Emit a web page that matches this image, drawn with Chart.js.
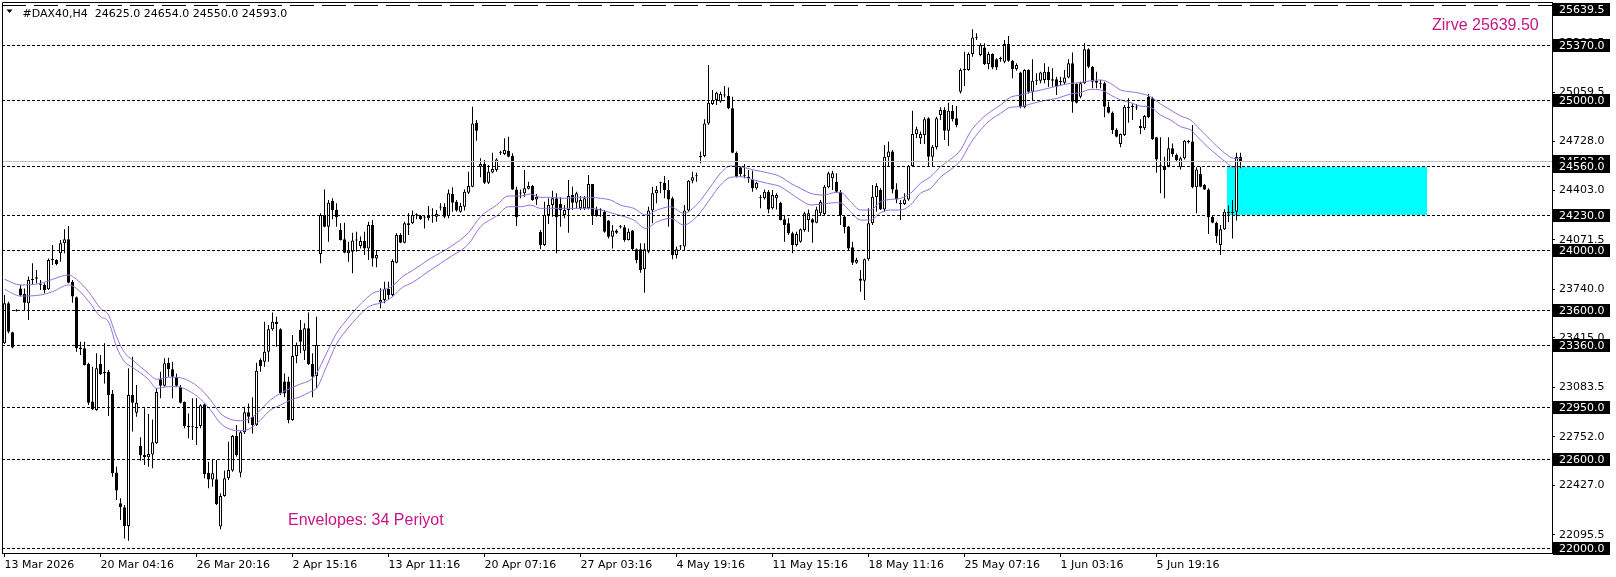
<!DOCTYPE html>
<html>
<head>
<meta charset="utf-8">
<script src="https://cdn.jsdelivr.net/npm/chart.js@4.4.1/dist/chart.umd.min.js"></script>
<style>
  html, body { margin: 0; padding: 0; background: #fff; }
  canvas { display: block; }
</style>
</head>
<body>
<canvas id="dax" width="1616" height="577" style="width:1616px;height:577px"></canvas>
<script>
// #DAX40 H4 candles, one entry per bar (bar 0 = 13 Mar 2026)
const opens = [
  23377,23645,23451,23596,23745,23707,23645,23801,23819,23770,
  23768,23739,23935,23935,23980,24047,24074,23790,23685,23350,
  23344,23239,22987,22931,23239,23187,23187,23038,22513,22306,
  22279,22154,23031,22913,22692,22629,22614,22632,22708,23136,
  23094,23248,23203,23150,23087,22984,22826,22815,22819,22824,
  22969,22511,22466,22467,22150,22355,22473,22525,22757,22511,
  22781,22915,22886,22830,23266,23254,23321,23471,23522,23471,
  23121,23121,22864,23292,23467,23328,23478,23239,23158,23975,
  24237,24158,24330,24270,24136,24074,23980,23991,24065,24029,
  24062,24013,24170,23946,23650,23667,23741,23701,23917,24103,
  24051,24170,24181,24237,24230,24219,24214,24232,24225,24286,
  24292,24230,24377,24326,24259,24292,24386,24426,24855,24560,
  24578,24453,24522,24538,24654,24645,24667,24632,24408,24380,
  24382,24413,24431,24341,24125,24036,24237,24303,24348,24310,
  24237,24270,24370,24319,24281,24281,24281,24444,24274,24270,
  24259,24199,24091,24132,24158,24154,24069,24132,24007,24007,
  23873,23991,24266,24382,24449,24453,24404,24348,23969,24025,
  24025,24266,24466,24496,24623,24632,24850,24980,25007,24996,
  25036,25033,24951,24654,24556,24498,24482,24475,24415,24348,
  24348,24393,24281,24348,24319,24208,24181,24114,24036,24058,
  24136,24203,24208,24185,24248,24243,24422,24482,24460,24393,
  24226,24159,24020,23917,23812,23797,23940,24181,24355,24404,
  24274,24623,24661,24408,24310,24310,24341,24565,24779,24750,
  24772,24884,24627,24690,24906,24940,24801,24935,24884,25062,
  25208,25208,25315,25420,25308,25359,25248,25315,25279,25281,
  25263,25382,25270,25212,25190,24958,25208,25062,25136,25136,
  25141,25196,25145,25145,25129,25123,25158,25252,25114,25029,
  25118,25346,25230,25136,25118,25118,24962,24922,24806,24712,
  24772,24962,24962,24958,24833,24817,25029,25018,24757,24565,
  24565,24565,24683,24638,24556,24616,24728,24728,24422,24511,
  24437,24408,24225,24185,24035,24141,24259,24250,24259,24625
];
const highs = [
  23701,23656,23455,23605,23768,23745,23824,23913,23868,23801,
  23779,23946,24036,23940,24069,24141,24163,23801,23690,23388,
  23388,23248,23221,23310,23299,23377,23199,23065,22551,22339,
  22295,23210,23288,23098,22748,22942,22904,22868,23076,23187,
  23277,23281,23254,23176,23098,22987,22908,23009,23009,22969,
  22975,22585,22600,22596,22373,22525,22719,22763,22830,22792,
  22953,22975,23016,23248,23277,23522,23500,23583,23556,23478,
  23176,23154,23433,23382,23533,23511,23583,23310,23556,24248,
  24408,24337,24348,24315,24181,24185,24058,24118,24125,24092,
  24125,24192,24203,24003,23746,23790,23790,23940,24114,24114,
  24192,24248,24266,24248,24237,24230,24297,24281,24270,24315,
  24315,24408,24422,24337,24319,24408,24527,24962,24873,24616,
  24605,24571,24654,24616,24667,24750,24761,24650,24426,24408,
  24538,24460,24438,24377,24136,24326,24348,24399,24382,24355,
  24303,24471,24426,24393,24364,24364,24504,24444,24292,24281,
  24270,24203,24170,24141,24170,24170,24147,24136,24013,24047,
  24047,24292,24426,24431,24460,24498,24471,24359,24025,24036,
  24304,24471,24527,24520,24661,24877,25241,25074,25062,25062,
  25100,25091,25029,24661,24565,24578,24538,24533,24460,24370,
  24408,24404,24404,24382,24326,24230,24214,24125,24125,24147,
  24259,24274,24214,24292,24337,24437,24527,24533,24516,24404,
  24230,24163,24058,23950,23868,23946,24281,24437,24449,24415,
  24705,24728,24672,24449,24337,24382,24571,24935,24828,24795,
  24891,24891,24705,24895,24958,24958,24989,24973,24966,25219,
  25330,25324,25480,25453,25386,25386,25330,25319,25286,25297,
  25408,25435,25274,25252,25196,25212,25212,25279,25185,25196,
  25252,25230,25219,25163,25163,25208,25279,25324,25118,25129,
  25386,25353,25234,25196,25141,25129,24995,24929,24817,24783,
  24973,25018,24984,24980,24877,24906,25047,25029,24761,24757,
  24627,24757,24716,24649,24627,24739,24739,24839,24556,24560,
  24444,24415,24237,24192,24170,24275,24300,24337,24654,24654
];
const lows = [
  23373,23444,23344,23590,23690,23600,23533,23768,23779,23734,
  23712,23734,23902,23900,23924,23980,23779,23649,23321,23299,
  23228,22964,22931,22926,23165,23109,22891,22484,22328,22194,
  22071,22056,22786,22886,22591,22562,22551,22540,22703,23009,
  23087,23154,23009,23087,22975,22808,22741,22730,22696,22808,
  22473,22406,22417,22295,22132,22350,22462,22518,22618,22480,
  22770,22842,22774,22824,23187,23221,23254,23462,23355,23031,
  23016,22842,22859,23243,23310,23266,23232,23016,23076,23913,
  24154,24058,24208,24158,24065,23980,23924,23846,23991,24013,
  23969,23935,23891,23886,23612,23645,23667,23690,23913,24047,
  24047,24103,24176,24208,24203,24147,24199,24185,24192,24266,
  24214,24214,24259,24259,24252,24266,24377,24422,24734,24489,
  24444,24444,24516,24527,24638,24638,24623,24404,24163,24348,
  24359,24408,24332,24303,24007,24029,24176,24225,23980,24158,
  24214,24118,24270,24281,24270,24270,24274,24170,24225,24225,
  24118,24080,24013,24109,24147,24058,24065,24002,23913,23850,
  23716,23980,24181,24315,24382,24348,24158,23940,23946,24002,
  24002,24259,24449,24460,24583,24623,24839,24973,24973,24989,
  25024,24944,24650,24487,24493,24482,24453,24393,24408,24281,
  24341,24248,24274,24274,24199,24058,24103,23980,24025,24051,
  24125,24125,24051,24181,24230,24230,24415,24404,24386,24170,
  24114,24002,23902,23910,23723,23667,23931,24170,24259,24270,
  24259,24560,24382,24315,24203,24304,24332,24560,24750,24712,
  24712,24560,24560,24676,24873,24739,24699,24862,24824,25051,
  25100,25203,25297,25408,25300,25241,25212,25212,25208,25263,
  25252,25263,25152,25203,24951,24951,25051,25002,25107,25118,
  25118,25096,25096,25040,25107,25107,25152,24922,24984,25018,
  25114,25219,25085,25085,25085,24891,24917,24779,24757,24690,
  24766,24855,24873,24940,24779,24806,24884,24739,24520,24382,
  24348,24556,24627,24594,24542,24609,24716,24415,24248,24422,
  24404,24109,24181,24047,23969,24136,24190,24080,24200,24550
];
const closes = [
  23645,23455,23350,23600,23701,23649,23801,23805,23810,23766,
  23734,23935,23937,23908,24047,24074,23783,23690,23344,23337,
  23232,22980,22935,23210,23172,23176,23031,22507,22391,22279,
  22154,23031,22980,22980,22627,22614,22636,22714,23051,23094,
  23243,23203,23154,23094,22980,22824,22815,22819,22808,22962,
  22502,22466,22507,22301,22355,22473,22529,22757,22629,22781,
  22915,22886,22830,23194,23225,23321,23471,23522,23507,23042,
  23042,22864,23292,23366,23388,23478,23239,23154,23366,24237,
  24158,24319,24270,24221,24069,23984,23998,24065,24067,24062,
  24013,24170,23946,23969,23667,23741,23701,23929,24103,24051,
  24181,24181,24237,24235,24210,24221,24230,24236,24243,24290,
  24225,24382,24319,24266,24297,24393,24431,24850,24801,24578,
  24453,24527,24545,24609,24656,24672,24627,24408,24221,24384,
  24415,24431,24337,24359,24036,24237,24303,24348,24221,24270,
  24270,24364,24319,24382,24337,24348,24444,24230,24230,24268,
  24125,24091,24132,24118,24160,24069,24125,24007,23935,23868,
  24007,24266,24382,24404,24451,24404,24341,23969,24007,24027,
  24266,24466,24489,24498,24632,24850,24989,25007,25056,25047,
  25038,24951,24654,24493,24511,24496,24493,24415,24453,24350,
  24393,24274,24370,24370,24203,24170,24114,24036,24109,24141,
  24248,24248,24185,24274,24326,24426,24516,24516,24393,24237,
  24154,24013,23917,23935,23797,23940,24181,24359,24431,24274,
  24627,24661,24408,24341,24312,24341,24565,24779,24810,24779,
  24877,24627,24694,24884,24940,24801,24935,24877,24839,25208,
  25210,25315,25426,25422,25375,25248,25315,25225,25225,25283,
  25382,25270,25212,25241,24958,25208,25062,25136,25138,25190,
  25196,25141,25136,25096,25127,25158,25252,24995,24989,25118,
  25346,25230,25129,25123,25116,24962,24922,24806,24761,24779,
  24962,24951,24960,24956,24817,24900,24891,24743,24609,24563,
  24538,24683,24645,24605,24616,24734,24726,24422,24542,24426,
  24408,24221,24185,24096,24141,24259,24250,24255,24625,24593
];

// Envelopes (34) upper / lower band, read at these bar positions
const envBars = [
  0,4,9,12,16,18,21,24,26,28,30,32,36,38,41,43,46,49,51.5,54,
  56.5,59,61.5,64,66.5,69,71.5,74,76.5,78,80.5,83,85.5,88,90.5,92,94.5,97,99.5,102,
  106.5,111.5,116,119,123,126,129,131.5,134,136.5,140,143,146.5,149,151.5,154,157.3,160.3,163.2,166.5,
  169.8,173.2,176.5,179,181.5,184,187.3,190.7,194,196.5,199,201.5,204.8,207.3,209,211.5,214,216.5,219,221.5,
  224,226.5,229,231.5,234,236.5,239,241.5,244,246.5,249,251.5,254,256.5,259.8,263.2,266.5,269,271.5,274,
  276.5,279,281.5,284,286.5,289,291.5,294,296.5,298.2,300.7,303.2,305.7,307.3,309
];
const envUpper = [
  23806,23768,23779,23806,23835,23806,23723,23612,23567,23422,23315,23266,23176,23136,23150,23150,23127,23072,22998,22908,
  22868,22859,22875,22931,22998,23042,23076,23105,23132,23176,23310,23444,23533,23612,23679,23712,23734,23761,23824,23865,
  23946,24024,24118,24225,24303,24364,24364,24377,24355,24355,24348,24355,24355,24348,24337,24303,24281,24237,24270,24292,
  24248,24310,24426,24516,24565,24560,24538,24520,24493,24449,24415,24382,24370,24386,24388,24326,24270,24270,24326,24341,
  24348,24382,24449,24493,24560,24609,24672,24795,24873,24929,24973,25025,25040,25058,25078,25100,25118,25123,25136,25141,
  25118,25074,25062,25051,25029,24980,24940,24900,24873,24828,24761,24694,24638,24616,24616
];
const envLower = [
  23739,23694,23701,23723,23768,23745,23660,23556,23522,23355,23254,23216,23136,23076,23087,23087,23060,23004,22931,22842,
  22801,22792,22808,22864,22931,22964,22998,23020,23054,23076,23221,23373,23467,23545,23612,23634,23650,23690,23752,23785,
  23868,23957,24042,24158,24230,24292,24292,24303,24281,24281,24281,24281,24281,24270,24252,24233,24203,24147,24192,24214,
  24170,24230,24348,24437,24489,24493,24471,24449,24426,24382,24337,24304,24310,24319,24317,24259,24203,24203,24252,24270,
  24270,24304,24382,24415,24490,24540,24600,24716,24806,24873,24917,24958,24962,24980,25002,25018,25047,25056,25078,25074,
  25040,25007,24989,24966,24958,24906,24873,24828,24806,24761,24694,24638,24582,24556,24565
];

// time axis: label every 24 bars
const timeTickBars = [0, 24, 48, 72, 96, 120, 144, 168, 192, 216, 240, 264, 288];
const timeLabels = ["13 Mar 2026", "20 Mar 04:16", "26 Mar 20:16", "2 Apr 15:16", "13 Apr 11:16",
  "20 Apr 07:16", "27 Apr 03:16", "4 May 19:16", "11 May 15:16", "18 May 11:16",
  "25 May 07:16", "1 Jun 03:16", "5 Jun 19:16"];

// price axis
const priceTicks = [25390.5, 25059.5, 24728.0, 24403.0, 24071.5, 23740.0, 23415.0, 23083.5, 22752.0, 22427.0, 22095.5];
const levels = [25370, 25000, 24560, 24230, 24000, 23600, 23360, 22950, 22600, 22000];
const peak = 25639.5;
const lastPrice = 24593.0;
const zone = { fromBar: 305.7, toBar: 355.7, top: 24560, bottom: 24238 };
const header = "#DAX40,H4  24625.0 24654.0 24550.0 24593.0";

const FONT = "DejaVu Sans";
const bars = opens.map((o, i) => i);

function crisp(v) {
  return Math.round(v - 0.5) + 0.5;
}

const overlay = {
  id: "overlay",
  beforeDatasetsDraw(chart) {
    const { ctx, scales: { x, y } } = chart;
    const x0 = Math.round(x.getPixelForValue(zone.fromBar));
    const x1 = Math.round(x.getPixelForValue(zone.toBar));
    const y0 = Math.round(y.getPixelForValue(zone.top));
    const y1 = Math.round(y.getPixelForValue(zone.bottom));
    ctx.save();
    ctx.fillStyle = "#00ffff";
    ctx.fillRect(x0, y0, x1 - x0, y1 - y0);
    ctx.restore();
  },
  afterDatasetsDraw(chart) {
    const { ctx, chartArea: a, scales: { x, y } } = chart;
    ctx.save();
    ctx.lineWidth = 1;

    // support / resistance levels
    ctx.strokeStyle = "#000";
    ctx.setLineDash([3, 2]);
    levels.forEach((v) => {
      const py = crisp(y.getPixelForValue(v));
      ctx.beginPath();
      ctx.moveTo(a.left, py);
      ctx.lineTo(a.right, py);
      ctx.stroke();
    });

    // peak line
    ctx.setLineDash([24, 8]);
    const pk = crisp(y.getPixelForValue(peak));
    ctx.beginPath();
    ctx.moveTo(a.left, pk);
    ctx.lineTo(a.right, pk);
    ctx.stroke();

    // bid line
    ctx.setLineDash([]);
    ctx.strokeStyle = "#c0c0c0";
    const bp = crisp(y.getPixelForValue(lastPrice));
    ctx.beginPath();
    ctx.moveTo(a.left, bp);
    ctx.lineTo(a.right, bp);
    ctx.stroke();

    // notes
    ctx.fillStyle = "#C71585";
    ctx.font = "16px 'Liberation Sans', Arial, sans-serif";
    ctx.textBaseline = "alphabetic";
    ctx.fillText("Zirve 25639.50", 1432, 30);
    ctx.fillText("Envelopes: 34 Periyot", 288, 525);
    ctx.restore();
  },
  afterDraw(chart) {
    const { ctx, chartArea: a, scales: { y } } = chart;
    ctx.save();
    // frame
    ctx.strokeStyle = "#000";
    ctx.lineWidth = 1;
    ctx.beginPath();
    ctx.moveTo(a.left + 0.5, a.bottom);
    ctx.lineTo(a.left + 0.5, a.top + 0.5);
    ctx.lineTo(a.right, a.top + 0.5);
    ctx.stroke();

    // header
    ctx.fillStyle = "#000";
    ctx.beginPath();
    ctx.moveTo(6.5, 9.5);
    ctx.lineTo(12.5, 9.5);
    ctx.lineTo(9.5, 13);
    ctx.closePath();
    ctx.fill();
    ctx.font = "11px '" + FONT + "'";
    ctx.textBaseline = "alphabetic";
    ctx.fillText(header, 22.5, 16.5);

    // price boxes
    ctx.textBaseline = "middle";
    [lastPrice, peak].concat(levels).forEach((v) => {
      const py = y.getPixelForValue(v);
      const top = Math.max(3, Math.round(py - 6.5));
      ctx.fillStyle = "#000";
      ctx.fillRect(a.right + 1, top, 57, 13);
      ctx.fillStyle = "#fff";
      ctx.fillText(v.toFixed(1), a.right + 7, top + 7);
    });
    ctx.restore();
  }
};

const ctx = document.getElementById("dax").getContext("2d");
const chart = new Chart(ctx, {
  type: "bar",
  data: {
    datasets: [
      {
        type: "line",
        data: envBars.map((b, k) => ({ x: b, y: envUpper[k] })),
        borderColor: "#9370DB",
        borderWidth: 1,
        pointRadius: 0,
        cubicInterpolationMode: "monotone",
        order: 0
      },
      {
        type: "line",
        data: envBars.map((b, k) => ({ x: b, y: envLower[k] })),
        borderColor: "#9370DB",
        borderWidth: 1,
        pointRadius: 0,
        cubicInterpolationMode: "monotone",
        order: 0
      },
      {
        // candle bodies
        data: bars.map((i) => ({ x: i, y: [opens[i], closes[i]] })),
        backgroundColor: bars.map((i) => (closes[i] >= opens[i] ? "#fff" : "#000")),
        borderColor: "#000",
        borderWidth: 1,
        borderSkipped: false,
        barThickness: 3,
        minBarLength: 1,
        inflateAmount: 0,
        grouped: false,
        order: 1
      },
      {
        // wicks
        data: bars.map((i) => ({ x: i, y: [lows[i], highs[i]] })),
        backgroundColor: "#000",
        borderWidth: 0,
        barThickness: 1,
        inflateAmount: 0,
        grouped: false,
        order: 2
      }
    ]
  },
  options: {
    responsive: false,
    maintainAspectRatio: false,
    animation: false,
    events: [],
    layout: { padding: { left: 2, top: 2, right: 0, bottom: 0 } },
    plugins: {
      legend: { display: false },
      tooltip: { enabled: false }
    },
    scales: {
      x: {
        type: "linear",
        min: -0.625,
        max: 386.875,
        offset: false,
        grid: { drawOnChartArea: false, tickLength: 4, color: "#000", offset: false },
        border: { color: "#000" },
        ticks: {
          align: "start",
          maxRotation: 0,
          autoSkip: false,
          padding: 2,
          color: "#000",
          font: { family: FONT, size: 11 },
          callback: (v) => {
            const k = timeTickBars.indexOf(v);
            return k >= 0 ? timeLabels[k] : "";
          }
        },
        afterBuildTicks: (s) => {
          s.ticks = timeTickBars.map((v) => ({ value: v }));
        },
        afterFit: (s) => {
          s.height = 24;
          s.paddingLeft = 0;
          s.paddingRight = 0;
        }
      },
      y: {
        position: "right",
        min: 21973.2,
        max: 25662.9,
        beginAtZero: false,
        grid: { drawOnChartArea: false, tickLength: 3, color: "#000" },
        border: { color: "#000" },
        ticks: {
          autoSkip: false,
          padding: 4,
          color: "#000",
          font: { family: FONT, size: 11 },
          callback: (v) => Number(v).toFixed(1)
        },
        afterBuildTicks: (s) => {
          s.ticks = priceTicks.map((v) => ({ value: v }));
        },
        afterFit: (s) => {
          s.width = 64;
          s.paddingTop = 0;
          s.paddingBottom = 0;
        }
      }
    }
  },
  plugins: [overlay]
});
</script>
</body>
</html>
